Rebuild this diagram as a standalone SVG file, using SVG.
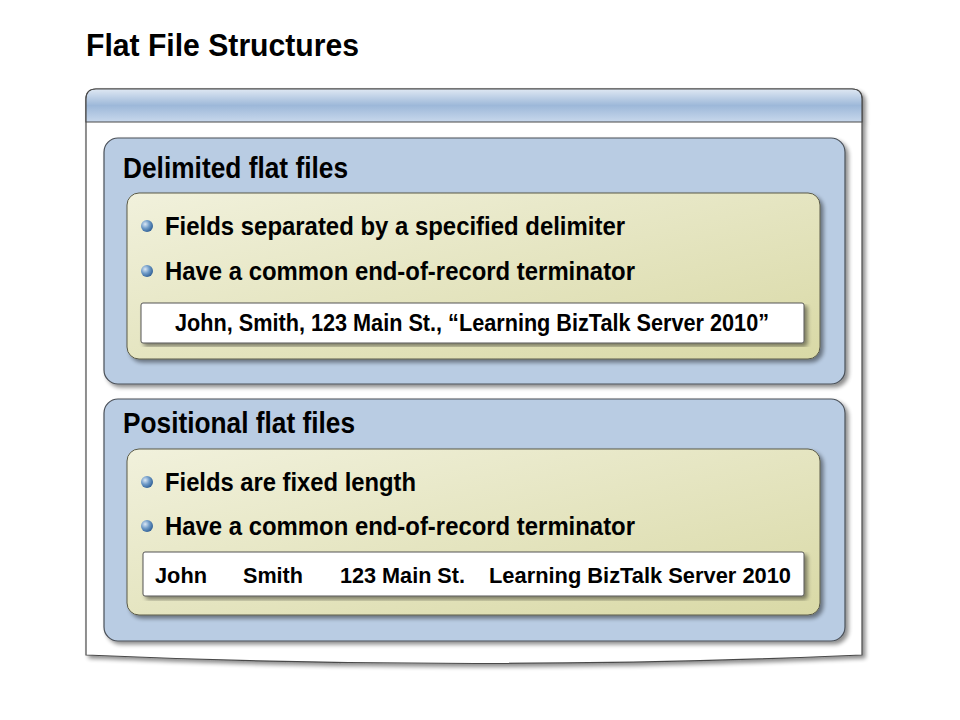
<svg xmlns="http://www.w3.org/2000/svg" width="960" height="720" viewBox="0 0 960 720">
<style>
text{font-family:"Liberation Sans Narrow","Liberation Sans",Arial,sans-serif;font-weight:bold;fill:#000}
.t1{font-size:31px}
.h{font-size:29px}
.b{font-size:26px}
.r1{font-size:24px}
.r2{font-size:22px}
.panel{fill:#B9CCE3;stroke:#4a5058;stroke-width:1.2}
.inner{fill:url(#yg);stroke:#5a5a48;stroke-width:1}
.rec{fill:#fff;stroke:#555;stroke-width:1}
</style>
<defs>
<linearGradient id="hdr" x1="0" y1="0" x2="0" y2="1">
<stop offset="0" stop-color="#dfe8f3"/>
<stop offset="0.5" stop-color="#9db8d9"/>
<stop offset="1" stop-color="#c8d8ec"/>
</linearGradient>
<linearGradient id="yg" x1="0" y1="0" x2="1" y2="1">
<stop offset="0" stop-color="#f1f1dc"/>
<stop offset="1" stop-color="#d9d9a6"/>
</linearGradient>
<radialGradient id="ball" cx="0.35" cy="0.35" r="0.7">
<stop offset="0" stop-color="#dbe8f5"/>
<stop offset="0.5" stop-color="#6f9bc8"/>
<stop offset="1" stop-color="#2f5f95"/>
</radialGradient>
<filter id="sh" x="-5%" y="-5%" width="110%" height="115%">
<feGaussianBlur in="SourceAlpha" stdDeviation="2"/>
<feOffset dx="3" dy="3" result="o"/>
<feComponentTransfer><feFuncA type="linear" slope="0.45"/></feComponentTransfer>
<feMerge><feMergeNode/><feMergeNode in="SourceGraphic"/></feMerge>
</filter>
</defs>
<rect width="960" height="720" fill="#fff"/>
<text id="title" class="t1" x="86" y="56" textLength="273" lengthAdjust="spacingAndGlyphs">Flat File Structures</text>

<g id="frame" filter="url(#sh)">
<path d="M86,99 Q86,89 96,89 L852,89 Q862,89 862,99 L862,655 Q474,672 86,655 Z" fill="#fff" stroke="#4a4a4a" stroke-width="1.2"/>
<path d="M86,99 Q86,89 96,89 L852,89 Q862,89 862,99 L862,122 L86,122 Z" fill="url(#hdr)" stroke="#4a4a4a" stroke-width="1.2"/>
</g>

<g id="delimited">
<rect class="panel" x="104" y="138" width="741" height="246" rx="14" filter="url(#sh)"/>
<text class="h" x="123" y="178" textLength="225" lengthAdjust="spacingAndGlyphs">Delimited flat files</text>
<rect class="inner" x="127" y="193" width="693" height="166" rx="12" filter="url(#sh)"/>
<circle cx="147" cy="226" r="6" fill="url(#ball)"/>
<text class="b" x="165" y="235" textLength="460" lengthAdjust="spacingAndGlyphs">Fields separated by a specified delimiter</text>
<circle cx="147" cy="271" r="6" fill="url(#ball)"/>
<text class="b" x="165" y="280" textLength="470" lengthAdjust="spacingAndGlyphs">Have a common end-of-record terminator</text>
<rect class="rec" x="141" y="303" width="663" height="40" rx="2" filter="url(#sh)"/>
<text class="r1" x="175" y="331" textLength="594" lengthAdjust="spacingAndGlyphs">John, Smith, 123 Main St., “Learning BizTalk Server 2010”</text>
</g>

<g id="positional">
<rect class="panel" x="104" y="399" width="741" height="242" rx="14" filter="url(#sh)"/>
<text class="h" x="123" y="433" textLength="232" lengthAdjust="spacingAndGlyphs">Positional flat files</text>
<rect class="inner" x="127" y="449" width="693" height="166" rx="12" filter="url(#sh)"/>
<circle cx="147" cy="482" r="6" fill="url(#ball)"/>
<text class="b" x="165" y="491" textLength="251" lengthAdjust="spacingAndGlyphs">Fields are fixed length</text>
<circle cx="147" cy="526" r="6" fill="url(#ball)"/>
<text class="b" x="165" y="535" textLength="470" lengthAdjust="spacingAndGlyphs">Have a common end-of-record terminator</text>
<rect class="rec" x="143" y="552" width="661" height="44" rx="2" filter="url(#sh)"/>
<text class="r2" x="155" y="583" textLength="52" lengthAdjust="spacingAndGlyphs">John</text>
<text class="r2" x="243" y="583" textLength="60" lengthAdjust="spacingAndGlyphs">Smith</text>
<text class="r2" x="340" y="583" textLength="125" lengthAdjust="spacingAndGlyphs">123 Main St.</text>
<text class="r2" x="489" y="583" textLength="302" lengthAdjust="spacingAndGlyphs">Learning BizTalk Server 2010</text>
</g>
<g id="connectors"/>
</svg>
